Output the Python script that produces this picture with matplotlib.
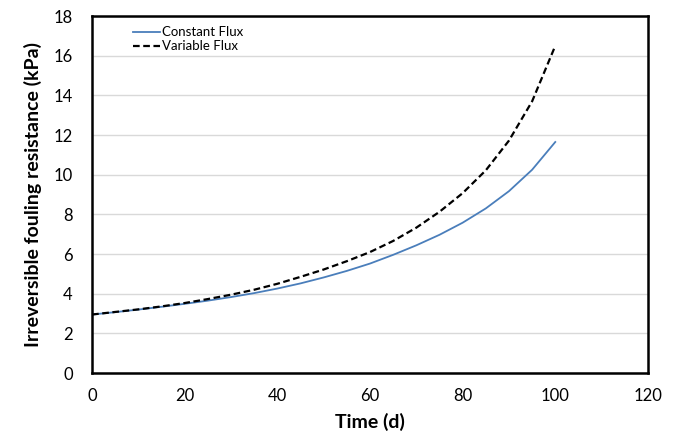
import matplotlib.pyplot as plt

# Данные
time_d = [0, 5, 10, 15, 20, 25, 30, 35, 40, 45, 50, 55, 60, 65, 70, 75, 80, 85, 90, 95, 100]
constant_flux = [2.95, 3.07, 3.2, 3.34, 3.49, 3.65, 3.83, 4.03, 4.26, 4.52, 4.82, 5.15,
                 5.52, 5.96, 6.44, 6.97, 7.58, 8.3, 9.17, 10.25, 11.65]
variable_flux = [2.95, 3.08, 3.21, 3.36, 3.53, 3.73, 3.95, 4.2, 4.5, 4.85, 5.22, 5.64,
                 6.1, 6.66, 7.33, 8.13, 9.07, 10.22, 11.72, 13.7, 16.5]

plt.rcParams['font.family'] = ['Lato', 'DejaVu Sans']

fig = plt.figure(figsize=(6.82, 4.47), dpi=100)
ax = fig.add_axes([0.135, 0.1655, 0.815, 0.7985])

ax.plot(time_d, constant_flux, color='#4a7ebb', lw=1.3, label='Constant Flux')
ax.plot(time_d, variable_flux, color='black', lw=1.6, ls=(0, (3, 1.6)), label='Variable Flux')

ax.set_xlim(0, 120)
ax.set_ylim(0, 18)
ax.set_xticks(range(0, 121, 20))
ax.set_yticks(range(0, 19, 2))
ax.yaxis.grid(True, color='#d9d9d9', lw=1)
ax.set_axisbelow(True)
ax.tick_params(length=0, labelsize=12)
ax.tick_params(axis='x', pad=11)
ax.tick_params(axis='y', pad=14)

for s in ax.spines.values():
    s.set_color('black')
    s.set_linewidth(1.8)

ax.set_xlabel('Time (d)', fontsize=14, fontweight='bold', labelpad=6)
ax.set_ylabel('Irreversible fouling resistance (kPa)', fontsize=14, fontweight='bold', labelpad=8)

ax.legend(loc='upper left', bbox_to_anchor=(0.053, 1.005), frameon=False, fontsize=9.5,
          handlelength=2.0, handletextpad=0.15, labelspacing=0.15)

fig.savefig('out.png', dpi=100)
